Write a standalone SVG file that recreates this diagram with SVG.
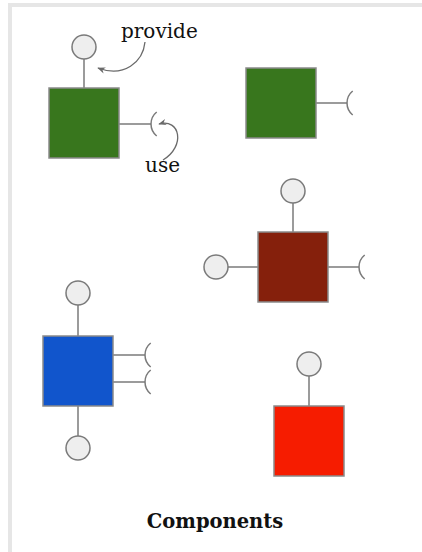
<svg xmlns="http://www.w3.org/2000/svg" width="422" height="552" viewBox="0 0 422 552">
  <style>
    .box { stroke: #8a8a8a; stroke-width: 1.5; }
    .wire { stroke: #7a7a7a; stroke-width: 1.5; fill: none; }
    .port { fill: #eeeeee; stroke: #7a7a7a; stroke-width: 1.5; }
    .socket { stroke: #7a7a7a; stroke-width: 1.5; fill: none; }
    .note { stroke: #6a6a6a; stroke-width: 1.3; fill: none; }
    .label { font-family: "DejaVu Serif", "Liberation Serif", serif; font-size: 20px; fill: #111111; }
    .title { font-family: "DejaVu Serif", "Liberation Serif", serif; font-size: 19.5px; font-weight: bold; fill: #111111; }
  </style>
  <defs>
    <marker id="tip" viewBox="0 0 10 10" refX="9" refY="5" markerWidth="8" markerHeight="8" orient="auto-start-reverse" markerUnits="userSpaceOnUse">
      <path d="M0,1 L10,5 L0,9 L3,5 Z" fill="#6a6a6a"/>
    </marker>
  </defs>

  <rect width="422" height="552" fill="#ffffff"/>
  <!-- frame -->
  <rect x="8" y="3" width="414" height="4" fill="#e6e6e6"/>
  <rect x="8" y="3" width="4" height="549" fill="#e6e6e6"/>

  <g id="connectors">
    <!-- A -->
    <line class="wire" x1="84" y1="59" x2="84" y2="88"/>
    <line class="wire" x1="119" y1="124" x2="151" y2="124"/>
    <!-- B -->
    <line class="wire" x1="316" y1="103" x2="347" y2="103"/>
    <!-- C -->
    <line class="wire" x1="293" y1="203" x2="293" y2="232"/>
    <line class="wire" x1="228" y1="267" x2="258" y2="267"/>
    <line class="wire" x1="328" y1="267" x2="359" y2="267"/>
    <!-- D -->
    <line class="wire" x1="78" y1="305" x2="78" y2="336"/>
    <line class="wire" x1="78" y1="406" x2="78" y2="436"/>
    <line class="wire" x1="113" y1="355" x2="145" y2="355"/>
    <line class="wire" x1="113" y1="382" x2="145" y2="382"/>
    <!-- E -->
    <line class="wire" x1="309" y1="376" x2="309" y2="406"/>
    <!-- annotation arrows -->
    <path class="note" d="M145,42 C143,62 124,78 98,68" marker-end="url(#tip)"/>
    <path class="note" d="M163,160 C186,146 180,118 159,124" marker-end="url(#tip)"/>
  </g>

  <g id="node-a">
    <rect class="box" x="49" y="88" width="70" height="70" fill="#38761d"/>
    <circle class="port" cx="84" cy="47" r="12"/>
    <path class="socket" d="M156.7,112 A15.5,15.5 0 0 0 156.7,136"/>
    <text class="label" x="121" y="38">provide</text>
    <text class="label" x="145" y="172">use</text>
  </g>

  <g id="node-b">
    <rect class="box" x="246" y="68" width="70" height="70" fill="#38761d"/>
    <path class="socket" d="M352.7,91 A15.5,15.5 0 0 0 352.7,115"/>
  </g>

  <g id="node-c">
    <rect class="box" x="258" y="232" width="70" height="70" fill="#85200c"/>
    <circle class="port" cx="293" cy="191" r="12"/>
    <circle class="port" cx="216" cy="267" r="12"/>
    <path class="socket" d="M364.7,255 A15.5,15.5 0 0 0 364.7,279"/>
  </g>

  <g id="node-d">
    <rect class="box" x="43" y="336" width="70" height="70" fill="#1155cc"/>
    <circle class="port" cx="78" cy="293" r="12"/>
    <circle class="port" cx="78" cy="448" r="12"/>
    <path class="socket" d="M150.7,343 A15.5,15.5 0 0 0 150.7,367"/>
    <path class="socket" d="M150.7,370 A15.5,15.5 0 0 0 150.7,394"/>
  </g>

  <g id="node-e">
    <rect class="box" x="274" y="406" width="70" height="70" fill="#f61c00"/>
    <circle class="port" cx="309" cy="364" r="12"/>
  </g>

  <text class="title" x="215" y="528" text-anchor="middle">Components</text>
</svg>
